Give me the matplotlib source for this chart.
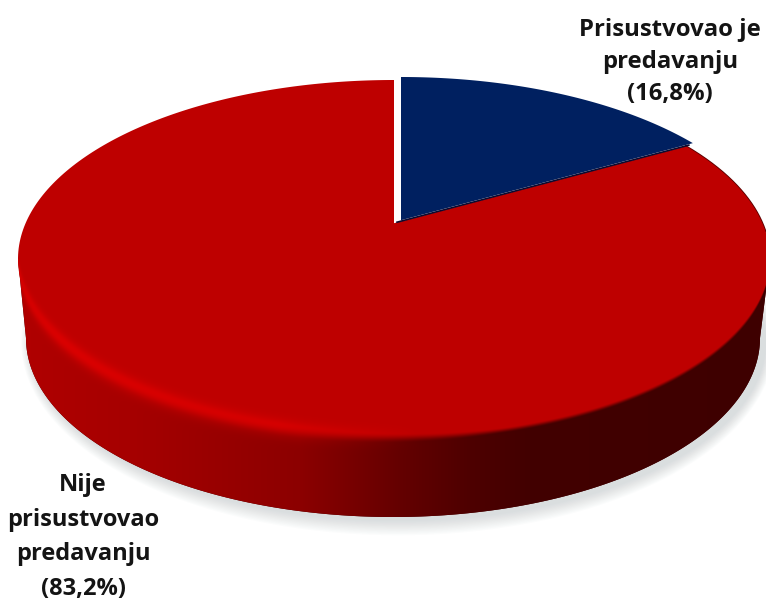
import numpy as np
import matplotlib
matplotlib.use("Agg")
import matplotlib.pyplot as plt
from matplotlib.patches import Polygon, Ellipse, Rectangle

plt.rcParams["font.family"] = ["Open Sans", "DejaVu Sans"]

labels = ["Prisustvovao je\npredavanju\n(16,8%)",
          "Nije\nprisustvovao\npredavanju\n(83,2%)"]
shares = [16.8, 83.2]
colors = ["#002060", "#BE0000"]

# disc geometry in image pixels
cx, cy, rx, ry = 394, 259, 376, 179
persp = 0.2          # pushes the pie centre towards the back of the disc
depth = 79
blue_shift = (7, -3)


def project(theta):
    # theta clockwise from 12 o'clock, circle -> tilted ellipse
    u, v = np.sin(theta), np.cos(theta)
    x = cx + rx * u * np.sqrt(1 - persp**2) / (1 + persp * v)
    y = cy - ry * (v + persp) / (1 + persp * v)
    return x, y


def wedge(start, stop, shift=(0, 0)):
    t = np.linspace(start, stop, 300)
    x, y = project(t)
    apex = (cx, cy - ry * persp)
    pts = np.vstack([[apex], np.column_stack([x, y])])
    return pts + np.array(shift)


fig = plt.figure(figsize=(7.66, 6.03), dpi=100)
ax = fig.add_axes([0, 0, 1, 1])
ax.set_xlim(0, 766)
ax.set_ylim(603, 0)
ax.axis("off")

# soft shadow under the disc, kept below the top face so the slice gap stays white
shadow_clip = Rectangle((0, cy + 40), 766, 603, transform=ax.transData)
for i in range(12):
    shadow = Ellipse((cx + 4, cy + depth + 4), 2 * (rx - 8) + 1.6 * i, 2 * ry + 2.6 * i,
                     fc="#a4acb0", ec="none", alpha=0.035, zorder=1)
    ax.add_patch(shadow)
    shadow.set_clip_path(shadow_clip)

# wall of the disc, below the widest line of the top face
lower = np.linspace(0, np.pi, 300)
wall = np.column_stack([(cx - 1) + (rx - 9) * np.cos(lower),
                        cy + depth + ry * np.sin(lower)])
wall_patch = Polygon(np.vstack([wall, [[cx - rx, cy], [cx + rx, cy]]]), closed=True,
                     fc="#400000", ec="none", zorder=2)
ax.add_patch(wall_patch)

# slices, from the shares
edges = np.cumsum([0] + shares) / 100 * 2 * np.pi
ax.add_patch(Polygon(wedge(edges[1], edges[2]), closed=True, fc=colors[1], ec="none", zorder=3))
ax.add_patch(Polygon(wedge(edges[0], edges[1], blue_shift), closed=True, fc=colors[0],
                     ec="none", zorder=4))

# dark seam under the blue slice and along the back right rim
seam = wedge(edges[1], edges[1])
ax.plot(seam[:, 0] + 3, seam[:, 1] - 1, color="#0a0a30", lw=1.2, zorder=5)
rim = wedge(edges[1], 1.62)[1:]
ax.plot(rim[:, 0], rim[:, 1], color="#5a0000", lw=1.3, zorder=2)

# wall shading, one pixel per image pixel
yy, xx = np.mgrid[0:603, 0:766] + 0.5
X = np.clip((xx - cx) / rx, -0.9999, 0.9999)
d = yy - (cy + ry * np.sqrt(1 - X**2))
stops_x = [20, 130, 300, 400, 470, 530, 766]
stops_r = [176, 166, 140, 100, 78, 66, 62]
wall_r = np.interp(xx, stops_x, stops_r) / 255
soft = np.interp(xx, [18, 300, 500, 766], [16, 14, 6, 5])
mix = np.clip((d + soft / 2) / soft, 0, 1)
mix = mix * mix * (3 - 2 * mix)
top_r = 0xBE / 255
r = top_r * (1 - mix) + wall_r * mix
# bright bevel on the lit front-left rim
glow = np.exp(-((d + 1) / 9) ** 2) * np.interp(xx, [18, 60, 280, 420], [0.10, 0.13, 0.12, 0])
r = np.clip(r + glow, 0, 1)
rgba = np.zeros((603, 766, 4))
rgba[..., 0] = r
rgba[..., 3] = np.clip((d + 26) / 6, 0, 1) * (yy > cy)
arc = np.linspace(np.pi, 2 * np.pi, 300)
silhouette = Polygon(np.vstack([wall, np.column_stack([cx + rx * np.cos(arc), cy + ry * np.sin(arc)])]),
                     closed=True, transform=ax.transData)
im = ax.imshow(rgba, extent=(0, 766, 603, 0), zorder=3.5, interpolation="bilinear", aspect="auto")
im.set_clip_path(silhouette)
ax.set_xlim(0, 766)
ax.set_ylim(603, 0)

ax.text(670, 62, labels[0], ha="center", va="center", fontsize=17.2, fontweight="bold",
        color="#141414", linespacing=1.47, zorder=6)
ax.text(83, 537, labels[1], ha="center", va="center", fontsize=17, fontweight="bold",
        color="#141414", linespacing=1.6, zorder=6)

fig.savefig("out.png", dpi=100)
